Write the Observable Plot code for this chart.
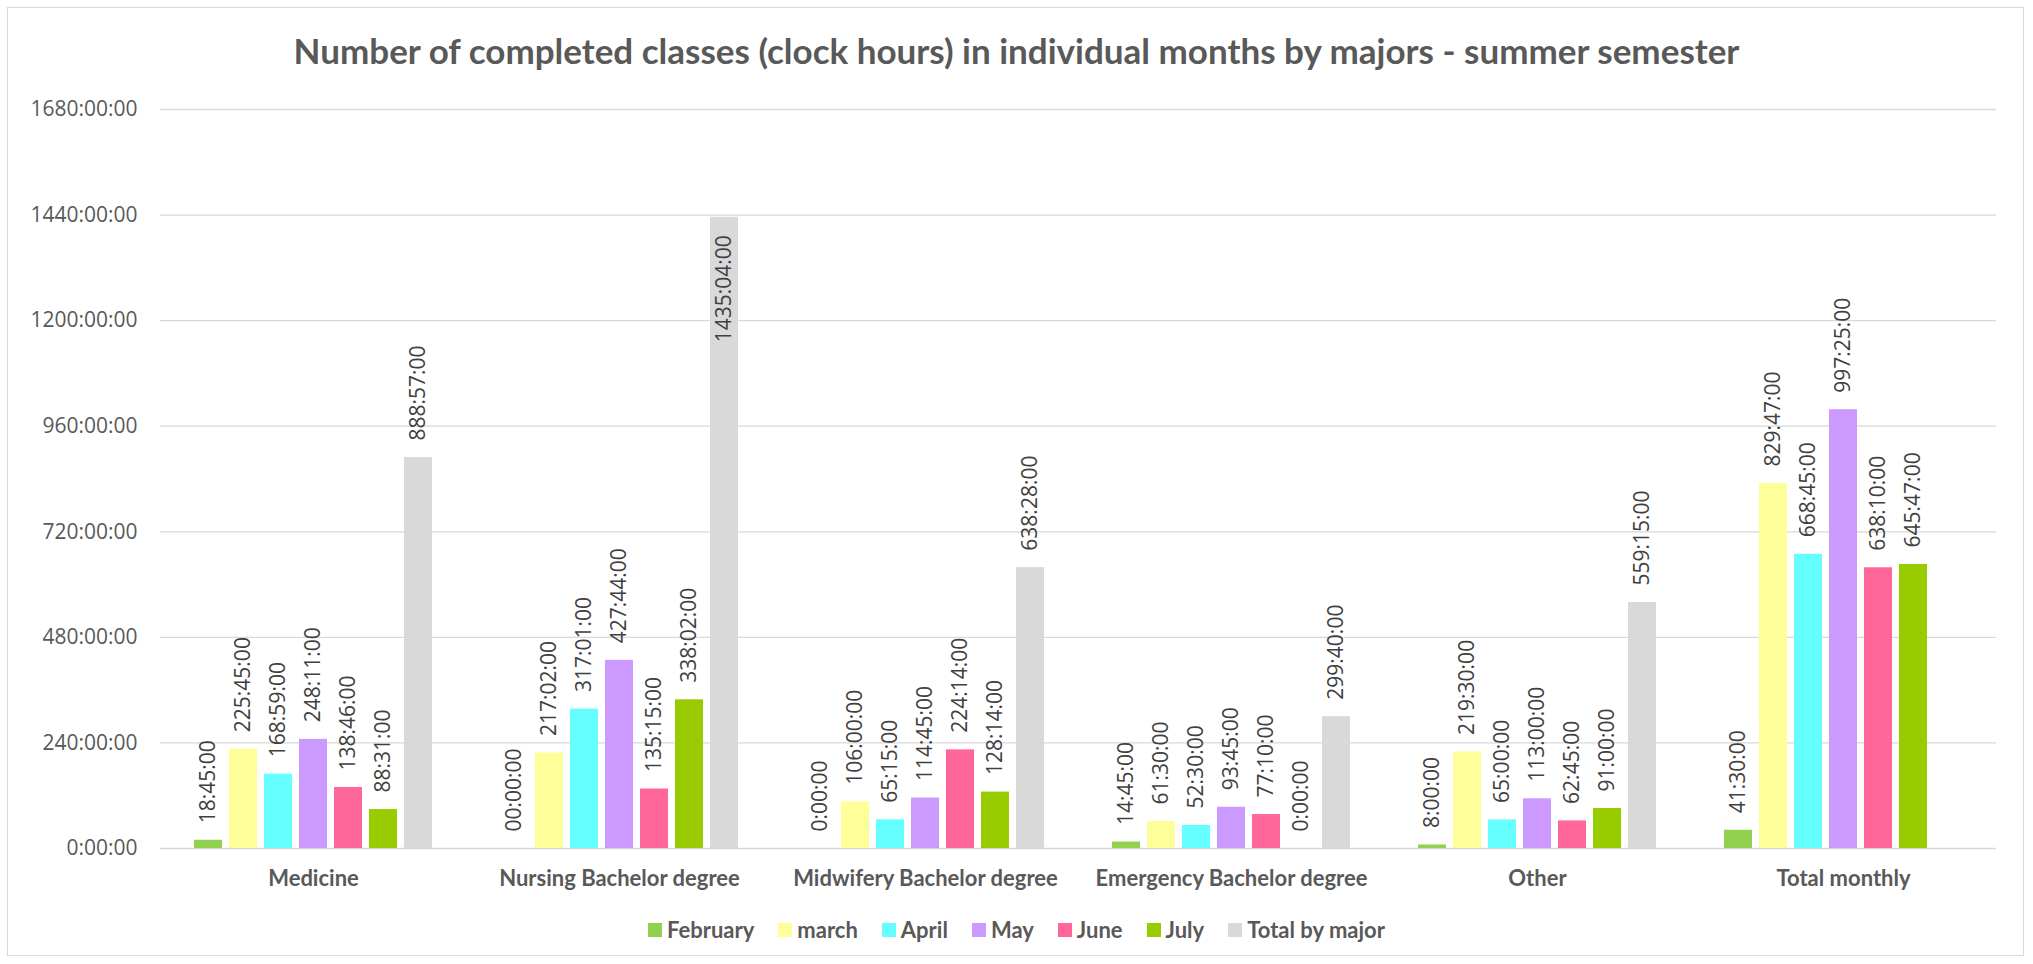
<!DOCTYPE html>
<html>
<head>
<meta charset="utf-8">
<script src="https://cdn.jsdelivr.net/npm/d3@7"></script>
<script src="https://cdn.jsdelivr.net/npm/@observablehq/plot@0.6"></script>
<style>
  html, body { margin: 0; padding: 0; background: #fff; }
  body { width: 2033px; height: 964px; position: relative; overflow: hidden; }
  #frame { position: absolute; left: 7px; top: 7px; width: 2017px; height: 949px; border: 1.5px solid #d9d9d9; box-sizing: border-box; }
  #title { position: absolute; left: 0; top: 33px; width: 2033px; text-align: center; font-family: Lato, sans-serif; font-weight: bold; font-size: 35px; line-height: 35px; color: #595959; white-space: nowrap; }
  #chart { position: absolute; left: 0; top: 60px; }
  #legend { position: absolute; left: 0; top: 919px; width: 2033px; display: flex; justify-content: center; align-items: center; font-family: Lato, sans-serif; font-weight: bold; font-size: 22px; line-height: 22px; color: #595959; }
  .item { display: flex; align-items: center; margin: 0 12px; }
  .sw { width: 14px; height: 14px; margin-right: 5px; }
</style>
</head>
<body>
<div id="frame"></div>
<div id="title">Number of completed classes (clock hours) in individual months by majors - summer semester</div>
<div id="chart"></div>
<div id="legend"></div>
<script>
const categories = ["Medicine", "Nursing Bachelor degree", "Midwifery Bachelor degree", "Emergency Bachelor degree", "Other", "Total monthly"];
const series = ["February", "march", "April", "May", "June", "July", "Total by major"];
const colors = ["#92D050", "#FFFF99", "#66FFFF", "#CC99FF", "#FF6699", "#99CC00", "#D9D9D9"];

const february   = ["18:45:00", "00:00:00", "0:00:00", "14:45:00", "8:00:00", "41:30:00"];
const march      = ["225:45:00", "217:02:00", "106:00:00", "61:30:00", "219:30:00", "829:47:00"];
const april      = ["168:59:00", "317:01:00", "65:15:00", "52:30:00", "65:00:00", "668:45:00"];
const may        = ["248:11:00", "427:44:00", "114:45:00", "93:45:00", "113:00:00", "997:25:00"];
const june       = ["138:46:00", "135:15:00", "224:14:00", "77:10:00", "62:45:00", "638:10:00"];
const july       = ["88:31:00", "338:02:00", "128:14:00", "0:00:00", "91:00:00", "645:47:00"];
const totalByMajor = ["888:57:00", "1435:04:00", "638:28:00", "299:40:00", "559:15:00", null];

const yTicks = [0, 240, 480, 720, 960, 1200, 1440, 1680];

const seriesValues = [february, march, april, may, june, july, totalByMajor];

function toHours(s) {
  const [h, m, sec] = s.split(":").map(Number);
  return h + m / 60 + sec / 3600;
}
function fmt(h) {
  const H = Math.floor(h);
  const M = Math.round((h - H) * 60);
  return `${H}:${String(M).padStart(2, "0")}:00`;
}

const rows = [];
categories.forEach((c, i) => {
  series.forEach((s, j) => {
    const v = seriesValues[j][i];
    if (v != null) rows.push({category: c, series: s, hours: toHours(v), label: v});
  });
});

const yMax = yTicks[yTicks.length - 1];
const fitsAbove = d => d.hours < yMax * 0.78;

const chart = Plot.plot({
  width: 2033,
  height: 848,
  marginTop: 49,
  marginBottom: 60,
  marginLeft: 158,
  marginRight: 35,
  facet: {data: rows, x: "category"},
  fx: {domain: categories, padding: 0},
  x: {domain: series, paddingInner: 0.208, paddingOuter: 0.864, axis: null},
  y: {domain: [0, yMax]},
  color: {domain: series, range: colors},
  style: {background: "transparent", fontFamily: "'Open Sans', sans-serif", color: "#595959"},
  marks: [
    Plot.ruleY(yTicks, {stroke: "#d9d9d9", strokeWidth: 1.3}),
    Plot.barY(rows, {x: "series", y: "hours", fill: "series"}),
    Plot.text(rows, {filter: fitsAbove, x: "series", y: "hours", text: "label", rotate: -90, textAnchor: "start", dy: -17, fontSize: 21, fill: "#404040"}),
    Plot.text(rows, {filter: d => !fitsAbove(d), x: "series", y: "hours", text: "label", rotate: -90, textAnchor: "end", dy: 18, fontSize: 21, fill: "#404040"}),
    Plot.axisY({ticks: yTicks, tickFormat: fmt, tickSize: 0, tickPadding: 23, fontSize: 21, color: "#595959", label: null}),
    Plot.axisFx({anchor: "bottom", tickSize: 0, tickPadding: 22, fontSize: 22, fontWeight: "bold", fontFamily: "Lato, sans-serif", color: "#595959", label: null})
  ]
});
document.getElementById("chart").appendChild(chart);

const legend = d3.select("#legend");
series.forEach((s, j) => {
  const it = legend.append("div").attr("class", "item");
  it.append("div").attr("class", "sw").style("background", colors[j]);
  it.append("span").text(s);
});
</script>
</body>
</html>
